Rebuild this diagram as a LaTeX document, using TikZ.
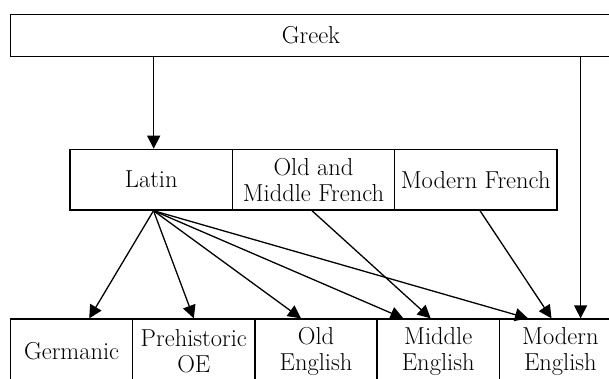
\documentclass[tikz,border=0pt]{standalone}
\usepackage{fontspec}
\setmainfont{Latin Modern Roman}
\usetikzlibrary{arrows.meta}

\begin{document}
\begin{tikzpicture}[x=1pt,y=-1pt,
  font=\fontsize{24.5}{26}\selectfont,
  lang/.style={draw, line width=1.3pt, inner sep=0pt, align=center},
  midrow/.style={lang, minimum width=162.5pt, minimum height=60.7pt},
  lowrow/.style={lang, minimum width=122.2pt, minimum height=64pt},
  feed/.style={line width=1.3pt, -{Triangle[length=13pt,width=13pt]}}]
  \useasboundingbox (0,0) rectangle (609,378);
  % source
  \node[lang, minimum width=601pt, minimum height=42.4pt] (greek) at (311,35.5) {Greek};
  % middle row
  \node[midrow] (latin) at (151.3,179.7) {Latin};
  \node[midrow] (omf) at (313.5,179.7) {Old and\\Middle French};
  \node[midrow] (mf) at (475.7,179.7) {Modern French};
  % bottom row
  \node[lowrow] (germ) at (71.6,351) {Germanic};
  \node[lowrow] (preoe) at (193.8,351) {Prehistoric\\OE};
  \node[lowrow] (oe) at (316,351) {Old\\English};
  \node[lowrow] (me) at (438.2,351) {Middle\\English};
  \node[lowrow] (mode) at (560.4,351) {Modern\\English};
  % arrows
  \draw[feed] ([xshift=2.4pt]latin.north |- greek.south) -- ([xshift=2.4pt]latin.north);
  \draw[feed] ([xshift=20.2pt]mode.north |- greek.south) -- ([xshift=20.2pt]mode.north);
  \draw[feed] ([xshift=2.2pt]latin.south) -- ([xshift=17.6pt]germ.north);
  \draw[feed] ([xshift=2.2pt]latin.south) -- (preoe.north);
  \draw[feed] ([xshift=2.2pt]latin.south) -- ([xshift=-15pt]oe.north);
  \draw[feed] ([xshift=2.2pt]latin.south) -- ([xshift=-34.8pt]me.north);
  \draw[feed] ([xshift=2.2pt]latin.south) -- ([xshift=-32.4pt]mode.north);
  \draw[feed] ([xshift=-1.5pt]omf.south) -- ([xshift=-7.5pt]me.north);
  \draw[feed] ([xshift=4.3pt]mf.south) -- ([xshift=-8.9pt]mode.north);
\end{tikzpicture}
\end{document}
